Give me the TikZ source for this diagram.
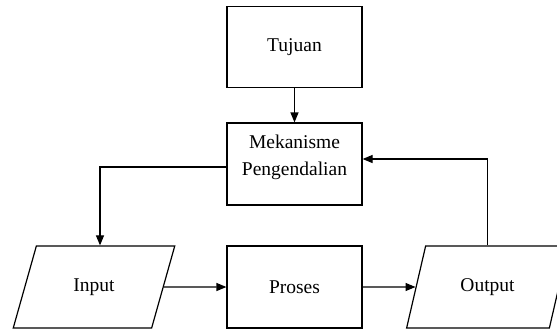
\documentclass[tikz,border=0pt]{standalone}
\usepackage{fontspec}
\setmainfont{Liberation Serif}
\usetikzlibrary{shapes.geometric,arrows.meta}
\begin{document}
\begin{tikzpicture}[x=1pt,y=-1pt,
  every node/.style={font=\fontsize{19.5}{28}\selectfont},
  boxnode/.style={draw,line width=1.2pt,minimum width=135pt,minimum height=81pt,inner sep=0pt,align=center},
  paranode/.style={draw,line width=1.2pt,trapezium,trapezium left angle=64,trapezium right angle=116,
    trapezium stretches=true,minimum width=162pt,minimum height=82pt,inner sep=0pt},
  conn/.style={line width=1.2pt,-{Triangle[length=10pt,width=8pt]}}]
\useasboundingbox (0,0) rectangle (557,330);
\node[boxnode] (tuj) at (294.5,47) {Tujuan};
\node[boxnode,minimum height=82pt] (mek) at (294.5,164) {Mekanisme\\[-1pt]Pengendalian\\[-10pt]\mbox{}};
\node[boxnode,minimum height=82pt] (pro) at (294.5,287) {Proses};
\node[paranode] (inp) at (94,287) {Input};
\node[paranode] (out) at (487.5,287) {Output};
\draw[conn] (tuj.south) -- (mek.north);
\draw[conn] ([yshift=-3pt]mek.west) -| ([xshift=6pt]inp.north);
\draw[conn] (inp.east) -- (pro.west);
\draw[conn] (pro.east) -- (out.west);
\draw[conn] (out.north) |- ([yshift=5pt]mek.east);
\end{tikzpicture}
\end{document}
